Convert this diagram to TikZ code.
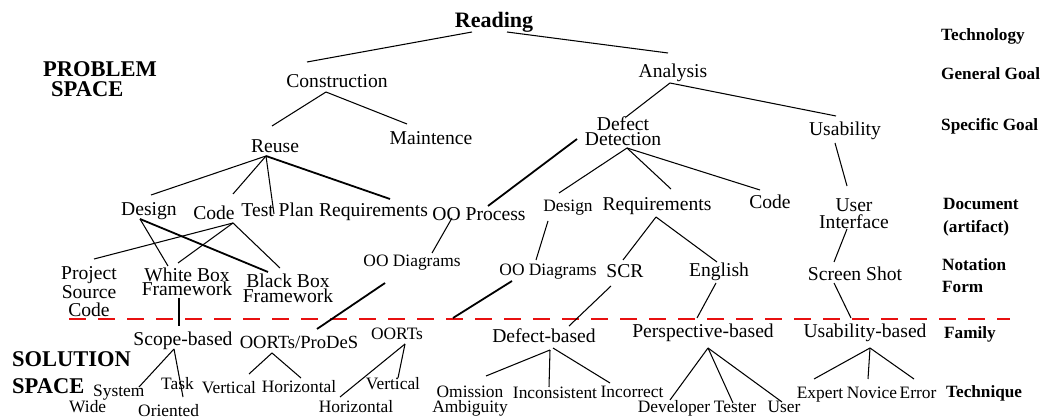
\documentclass[tikz,border=0pt]{standalone}
\usepackage{fontspec}
\setmainfont{Liberation Serif}
\definecolor{sepred}{RGB}{232,16,16}
\begin{document}
\begin{tikzpicture}[x=1pt,y=-1pt,
  txt/.style={inner sep=0pt, anchor=base, align=center, font=\fontsize{19.6}{15}\selectfont},
  sm/.style={txt, font=\fontsize{17.4}{16}\selectfont},
  hd/.style={inner sep=0pt, anchor=base west, align=left, font=\bfseries\fontsize{17.2}{22}\selectfont},
  big/.style={inner sep=0pt, anchor=base west, align=left, font=\bfseries\fontsize{22.5}{20}\selectfont},
  ln/.style={line width=1.05pt},
  thk/.style={line width=1.8pt},
  sep/.style={draw=sepred, line width=2pt, dash pattern=on 17pt off 12pt}]
\fill[white] (0,0) rectangle (1044,419);
\useasboundingbox (0,0) rectangle (1044,419);

% ---- side titles (multi-line nodes sit on the baseline of their last line)
\node[big] (problem) at (43,97) {PROBLEM\\\hspace*{8pt}SPACE};
\node[big, font=\bfseries\fontsize{22.5}{26}\selectfont] (solution) at (12,393) {SOLUTION\\SPACE};

% ---- level labels
\node[hd] (lTech) at (941,41) {Technology};
\node[hd] (lGen) at (941,80) {General Goal};
\node[hd] (lSpec) at (941,131) {Specific Goal};
\node[hd, font=\bfseries\fontsize{17.2}{23}\selectfont] (lDoc) at (943,233) {Document\\(artifact)};
\node[hd] (lNot) at (942,293) {Notation\\Form};
\node[hd] (lFam) at (944,339) {Family};
\node[hd] (lTechq) at (946,397) {Technique};

% ---- problem space
\node[txt, font=\bfseries\fontsize{22}{20}\selectfont] (reading) at (494,28) {Reading};
\node[txt] (construction) at (337,88) {Construction};
\node[txt] (analysis) at (673,78) {Analysis};
\node[txt] (maintence) at (431,145) {Maintence};
\node[txt] (reuse) at (275,153) {Reuse};
\node[txt] (defect) at (623,146) {Defect\\Detection};
\node[txt] (usability) at (845,136) {Usability};

\node[txt] (design1) at (149,216) {Design};
\node[txt] (code1) at (214,220) {Code};
\node[txt] (testplan) at (277.5,217) {Test Plan};
\node[txt] (req1) at (373.5,217) {Requirements};
\node[txt] (ooproc) at (479,221) {OO Process};
\node[sm] (design2) at (568,212) {Design};
\node[txt] (req2) at (657,211) {Requirements};
\node[txt] (code2) at (770,209) {Code};
\node[txt, font=\fontsize{19.6}{17}\selectfont] (ui) at (854,229) {User\\Interface};

\node[txt, font=\fontsize{19.6}{18.5}\selectfont] (psc) at (89,317) {Project\\Source\\Code};
\node[txt, font=\fontsize{19.6}{14}\selectfont] (wbf) at (187,296) {White Box\\Framework};
\node[txt] (bbf) at (288,303) {Black Box\\Framework};
\node[sm] (ood1) at (412,267) {OO Diagrams};
\node[sm] (ood2) at (548,276) {OO Diagrams};
\node[txt] (scr) at (625,278) {SCR};
\node[txt] (english) at (719,277) {English};
\node[txt] (screen) at (855,281) {Screen Shot};

% ---- boundary between the two spaces
\coordinate (sepL) at (69,319);
\coordinate (sepR) at (1010,319);
\draw[sep] (sepL) -- (sepR);

% ---- solution space
\node[txt] (scope) at (183,346) {Scope-based};
\node[txt, font=\fontsize{18.6}{16}\selectfont] (oortsp) at (299,349) {OORTs/ProDeS};
\node[sm] (oorts) at (397,340) {OORTs};
\node[txt] (defectb) at (544,343) {Defect-based};
\node[txt] (persp) at (703,338) {Perspective-based};
\node[txt] (usab) at (865,338) {Usability-based};

\node[sm, anchor=base west, align=left, font=\fontsize{17.4}{14}\selectfont] (sysw) at (69,413) {\hspace*{24pt}System\\Wide};
\node[sm, anchor=base west, align=left, font=\fontsize{17.4}{14}\selectfont] (tasko) at (138,417) {\hspace*{23pt}Task\\[14pt]Oriented};
\node[sm] (vert1) at (229,393) {Vertical};
\node[sm] (horiz1) at (299,392) {Horizontal};
\node[sm] (horiz2) at (356,412) {Horizontal};
\node[sm] (vert2) at (393,390) {Vertical};
\node[sm] (omamb) at (470,413) {Omission\\Ambiguity};
\node[sm] (incons) at (555,399) {Inconsistent};
\node[sm] (incorr) at (632,397) {Incorrect};
\node[sm] (dev) at (674,413) {Developer};
\node[sm] (tester) at (735,413) {Tester};
\node[sm] (user) at (784,413) {User};
\node[sm] (expert) at (820,399) {Expert};
\node[sm] (novice) at (872,399) {Novice};
\node[sm] (error) at (918,399) {Error};

\coordinate (oodend) at (453,318);

% ---- connectors
\draw[ln] ([shift={(-22,4)}]reading.base) -- ([shift={(-30,-26)}]construction.base);
\draw[ln] ([shift={(13,4)}]reading.base) -- ([shift={(-5,-25)}]analysis.base);
\draw[ln] ([shift={(-11,4)}]construction.base) -- ([shift={(-3,-27)}]reuse.base);
\draw[ln] ([shift={(-11,4)}]construction.base) -- ([shift={(-24,-21)}]maintence.base);
\draw[ln] ([shift={(-3,5)}]analysis.base) -- ([shift={(3,-29)}]defect.base);
\draw[ln] ([shift={(-3,5)}]analysis.base) -- ([shift={(-9,-20)}]usability.base);
\draw[thk] ([shift={(-46,-7)}]defect.base) -- ([shift={(9,-15)}]ooproc.base);
\draw[ln] ([shift={(4,2)}]defect.base) -- ([shift={(-9,-19)}]design2.base);
\draw[ln] ([shift={(4,2)}]defect.base) -- ([shift={(14,-22)}]req2.base);
\draw[ln] ([shift={(4,2)}]defect.base) -- ([shift={(-10,-19)}]code2.base);
\draw[ln] ([shift={(-10,7)}]usability.base) -- ([shift={(-7,-43)}]ui.base);

\draw[ln] ([shift={(-9,3)}]reuse.base) -- ([shift={(2,-21)}]design1.base);
\draw[ln] ([shift={(-9,3)}]reuse.base) -- ([shift={(19,-26)}]code1.base);
\draw[ln] ([shift={(-9,3)}]reuse.base) -- ([shift={(-3.5,-3)}]testplan.base);
\draw[thk] ([shift={(-9,3)}]reuse.base) -- ([shift={(16.5,-18)}]req1.base);

\draw[ln] ([shift={(-9,3)}]design1.base) -- ([shift={(-19,-30)}]wbf.base);
\draw[thk] ([shift={(-9,3)}]design1.base) -- ([shift={(-20,-31)}]bbf.base);
\draw[ln] ([shift={(19,3)}]code1.base) -- ([shift={(5,-58)}]psc.base);
\draw[ln] ([shift={(19,3)}]code1.base) -- ([shift={(-9,-33)}]wbf.base);
\draw[ln] ([shift={(19,3)}]code1.base) -- ([shift={(-8,-35)}]bbf.base);
\draw[ln] ([shift={(-8,2)}]wbf.base) -- ([shift={(-4,-20)}]scope.base);

\draw[ln] ([shift={(-27,-3)}]ooproc.base) -- ([shift={(20,-14)}]ood1.base);
\draw[thk] ([shift={(-27,16)}]ood1.base) -- ([shift={(18,-20)}]oortsp.base);
\draw[ln] ([shift={(-20,9)}]design2.base) -- ([shift={(-12,-16)}]ood2.base);
\draw[thk] ([shift={(-36,5)}]ood2.base) -- (oodend);
\draw[ln] ([shift={(-1,6)}]req2.base) -- ([shift={(-2,-18)}]scr.base);
\draw[ln] ([shift={(-1,6)}]req2.base) -- ([shift={(-2,-15)}]english.base);
\draw[ln] ([shift={(-14,8)}]scr.base) -- ([shift={(25,-17)}]defectb.base);
\draw[ln] ([shift={(-3,6)}]english.base) -- ([shift={(-6,-20)}]persp.base);
\draw[ln] ([shift={(-7,0)}]ui.base) -- ([shift={(-21,-19)}]screen.base);
\draw[ln] ([shift={(-21,2)}]screen.base) -- ([shift={(-14,-20)}]usab.base);

\draw[ln] ([shift={(-9,3)}]scope.base) -- ([shift={(70,-26)}]sysw.base west);
\draw[ln] ([shift={(-9,3)}]scope.base) -- ([shift={(45,-20)}]tasko.base west);
\draw[ln] ([shift={(-27,4)}]oortsp.base) -- ([shift={(20,-19)}]vert1.base);
\draw[ln] ([shift={(-27,4)}]oortsp.base) -- ([shift={(2,-14)}]horiz1.base);
\draw[ln] ([shift={(8,4)}]oorts.base) -- ([shift={(-16,-15)}]horiz2.base);
\draw[ln] ([shift={(8,4)}]oorts.base) -- ([shift={(5,-12)}]vert2.base);
\draw[ln] ([shift={(6,7)}]defectb.base) -- ([shift={(16,-37)}]omamb.base);
\draw[ln] ([shift={(6,7)}]defectb.base) -- ([shift={(-6,-12)}]incons.base);
\draw[ln] ([shift={(9,5)}]defectb.base) -- ([shift={(-22,-14)}]incorr.base);
\draw[ln] ([shift={(5,10)}]persp.base) -- ([shift={(-4,-13)}]dev.base);
\draw[ln] ([shift={(5,10)}]persp.base) -- ([shift={(-2,-10)}]tester.base);
\draw[ln] ([shift={(5,10)}]persp.base) -- ([shift={(-2,-11)}]user.base);
\draw[ln] ([shift={(5,10)}]usab.base) -- ([shift={(-6,-20)}]expert.base);
\draw[ln] ([shift={(5,10)}]usab.base) -- ([shift={(-4,-20)}]novice.base);
\draw[ln] ([shift={(5,10)}]usab.base) -- ([shift={(-4,-20)}]error.base);
\end{tikzpicture}
\end{document}
